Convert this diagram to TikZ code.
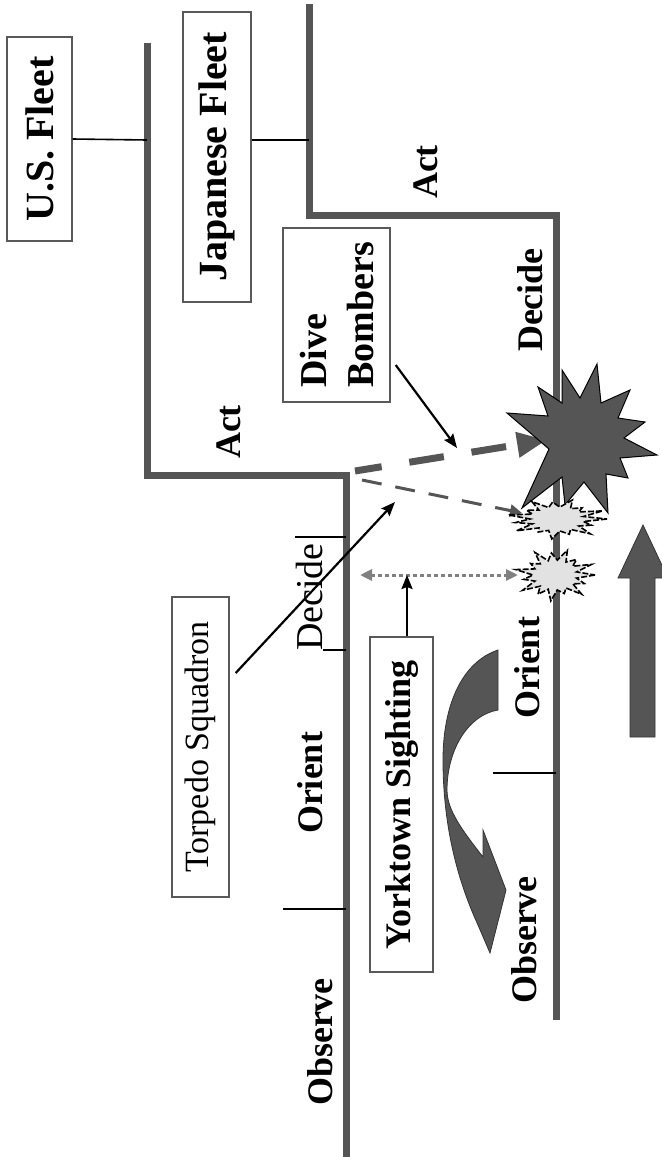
\documentclass[tikz,border=0pt]{standalone}
\usepackage{fontspec}
\setmainfont{Liberation Serif}
\usetikzlibrary{arrows.meta,calc}
\definecolor{fleetgray}{RGB}{85,85,85}
\definecolor{burstgray}{RGB}{226,226,226}

\begin{document}
\begin{tikzpicture}[x=0.5pt,y=-0.5pt,
  fleetline/.style={line width=3.5pt,draw=fleetgray},
  tick/.style={line width=0.8pt},
  tag/.style={draw=black!65,line width=0.7pt,fill=white,rotate=90,inner sep=2pt,font=\bfseries\fontsize{20}{23}\selectfont},
  phase/.style={rotate=90,inner sep=0pt,font=\bfseries\fontsize{18}{20}\selectfont},
  ptr/.style={-{Stealth[length=7pt,width=5.5pt,inset=1pt]},line width=1.1pt},
  bigarrow/.style={fill=fleetgray,draw=black!80,line width=0.4pt},
  burst/.style={fill=burstgray,draw=black,line width=0.8pt,dash pattern=on 3pt off 1pt}]
\useasboundingbox (0,0) rectangle (661,1157);
% OODA tracks of the two fleets
\draw[fleetline] (147,43) -- (147,475) -- (346,475) -- (346,1160);
\draw[fleetline] (309,4) -- (309,215) -- (556,215) -- (556,1020);
\coordinate (usjoin) at (147,140);
\coordinate (jpjoin) at (309,140);
% phase boundaries
\draw[tick] (295,537) -- (346,537);
\draw[tick] (323,650) -- (346,650);
\draw[tick] (283,909) -- (346,909);
\draw[tick] (493,773) -- (556,773);
% phase names
\node[phase] (usact) at (229,432) {Act};
\node[phase,font=\fontsize{19}{21}\selectfont] (usdecide) at (309,597) {Decide};
\node[phase] (usorient) at (310,783) {Orient};
\node[phase] (usobserve) at (320,1042) {Observe};
\node[phase] (jpact) at (426,172) {Act};
\node[phase] (jpdecide) at (530,300) {Decide};
\node[phase] (jporient) at (527,668) {Orient};
\node[phase] (jpobserve) at (524,940) {Observe};
% attack runs
\coordinate (usturn) at (355,471);
\coordinate (bighit) at (547,440);
\coordinate (usturnB) at (362,480);
\coordinate (smallhit) at (522,513);
\draw[fleetgray,line width=3.5pt,dash pattern=on 17.5pt off 14pt,dash phase=4pt,
  -{Triangle[length=15pt,width=12pt]}] (usturn) -- (bighit);
\draw[fleetgray,line width=1.5pt,dash pattern=on 10pt off 7pt,
  -{Triangle[length=6pt,width=6pt]}] (usturnB) -- (smallhit);
% hits
\filldraw[fill=fleetgray,draw=black,line width=0.5pt] plot coordinates {(597,364) (601,403) (630,390) (618,418) (645,422) (624,438) (657,455) (620,458) (628,478) (606,474) (608,513) (584,482) (565,505) (562,477) (522,508) (549,449) (507,413) (548,416) (538,387) (562,403) (562,370) (580,398)} -- cycle;
\draw[burst,shift={(557,519)}] (0:50 and 20)
  \foreach \a/\o in {0/.75,24/1,48/.8,72/1,96/.75,120/1,144/.85,168/1,192/.75,216/1,240/.85,264/1,288/.75,312/1,336/1} {
    -- ({\a+12}:27 and 12) -- ({\a+24}:{\o*50} and {\o*20}) } -- cycle;
\draw[burst,shift={(555,575)}] (0:40 and 26)
  \foreach \a/\o in {0/.8,24/1,48/.75,72/1,96/.85,120/1,144/.8,168/1,192/.75,216/1,240/.85,264/1,288/.8,312/1,336/1} {
    -- ({\a+12}:22 and 15) -- ({\a+24}:{\o*40} and {\o*26}) } -- cycle;
% sighting
\coordinate (sightL) at (360,575);
\coordinate (sightR) at (518,575);
\draw[gray,line width=1.5pt,dash pattern=on 2pt off 1.5pt,
  {Triangle[length=6pt,width=5.5pt]}-{Triangle[length=6pt,width=5.5pt]}] (sightL) -- (sightR);
% loop arrow and advance arrow
\filldraw[bigarrow] (498,650) .. controls (462,662) and (443,705) .. (443,760)
  .. controls (443,835) and (462,890) .. (478,925) -- (490,953) -- (506,890) -- (483,830) -- (483,857)
  .. controls (462,830) and (447,810) .. (447,790) .. controls (447,750) and (468,715) .. (498,710) -- cycle;
\filldraw[bigarrow] (630,737) -- (630,578) -- (618,578) -- (643,525) -- (668,578) -- (655,578) -- (655,737) -- cycle;
% boxes
\node[tag,minimum width=102pt,minimum height=32.5pt] (usfleet) at (39.5,139) {U.S. Fleet};
\node[tag,minimum width=145pt,minimum height=34pt] (jpfleet) at (217,157) {Japanese Fleet};
\node[tag,minimum width=87pt,minimum height=53.5pt,align=left,font=\bfseries\fontsize{19}{23.5}\selectfont] (divebomb) at (336.5,315) {Dive\\Bombers};
\node[tag,minimum width=150pt,minimum height=28.5pt,font=\fontsize{17}{20}\selectfont] (torpedo) at (200.5,747) {Torpedo Squadron};
\node[tag,minimum width=167.5pt,minimum height=31.5pt,font=\bfseries\fontsize{18}{20}\selectfont] (yorktown) at (401.5,804.5) {Yorktown Sighting};
% connectors
\draw[line width=0.8pt] (usfleet.south) -- (usjoin);
\draw[line width=0.8pt] (jpfleet.south |- jpjoin) -- (jpjoin);
\coordinate (divehit) at (457,448);
\coordinate (torphit) at (395,502);
\draw[ptr] ([shift={(5,50)}]divebomb.south) -- (divehit);
\draw[ptr] ([shift={(6,-74)}]torpedo.south) -- (torphit);
\draw[ptr] ([shift={(5.5,0)}]yorktown.east) -- ([shift={(5.5,0)}]yorktown.east |- sightL);
\end{tikzpicture}
\end{document}
